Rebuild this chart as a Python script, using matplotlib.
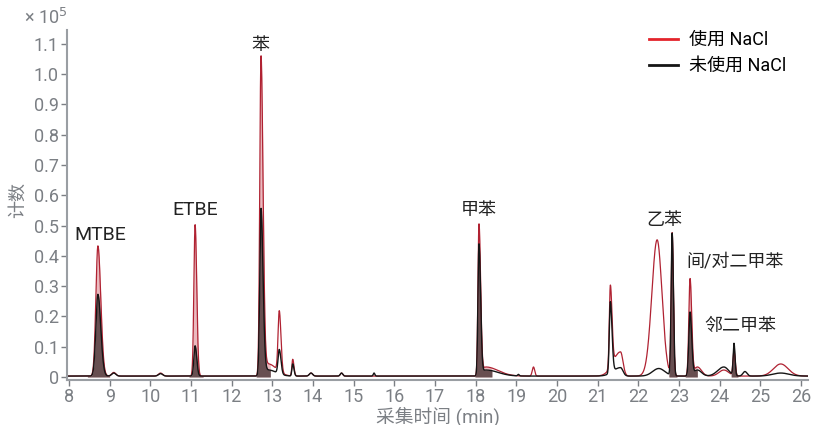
import numpy as np
import matplotlib
matplotlib.use("Agg")
import matplotlib.pyplot as plt

plt.rcParams['font.family'] = ['Roboto', 'Noto Sans CJK SC', 'DejaVu Sans']

# peak tables: retention time (min), height (x1e5), left sigma, right sigma
nacl_rt = [8.71, 9.10, 10.25, 11.10, 12.72, 12.90, 13.17, 13.50, 13.95, 14.70, 18.08, 18.25, 19.42,
           21.31, 21.56, 22.46, 22.83, 23.27, 23.45, 24.10, 24.35, 25.50]
nacl_h = [0.43, 0.012, 0.01, 0.50, 1.05, 0.04, 0.20, 0.055, 0.01, 0.01, 0.50, 0.03, 0.03,
          0.27, 0.08, 0.45, 0.47, 0.32, 0.03, 0.02, 0.08, 0.04]
nacl_sl = [0.05, 0.05, 0.05, 0.03, 0.03, 0.10, 0.03, 0.02, 0.04, 0.03, 0.025, 0.08, 0.03,
           0.025, 0.18, 0.13, 0.025, 0.03, 0.08, 0.12, 0.025, 0.18]
nacl_sr = [0.07, 0.05, 0.05, 0.04, 0.05, 0.20, 0.04, 0.03, 0.04, 0.03, 0.04, 0.30, 0.03,
           0.04, 0.06, 0.12, 0.03, 0.04, 0.10, 0.12, 0.03, 0.18]

none_rt = [8.71, 9.10, 10.25, 11.10, 12.72, 12.90, 13.17, 13.50, 13.95, 14.70, 15.50, 18.08, 18.25,
           19.05, 21.31, 21.56, 22.50, 22.83, 23.27, 23.45, 24.10, 24.35, 24.62, 25.50]
none_h = [0.27, 0.01, 0.008, 0.10, 0.55, 0.02, 0.08, 0.04, 0.01, 0.01, 0.01, 0.435, 0.02,
          0.005, 0.235, 0.028, 0.025, 0.47, 0.21, 0.02, 0.03, 0.105, 0.015, 0.01]
none_sl = [0.05, 0.05, 0.05, 0.03, 0.03, 0.10, 0.03, 0.02, 0.04, 0.03, 0.02, 0.025, 0.08,
           0.02, 0.025, 0.18, 0.15, 0.025, 0.03, 0.08, 0.15, 0.02, 0.05, 0.2]
none_sr = [0.07, 0.05, 0.05, 0.04, 0.05, 0.20, 0.04, 0.03, 0.04, 0.03, 0.02, 0.04, 0.30,
           0.02, 0.04, 0.06, 0.15, 0.03, 0.04, 0.10, 0.12, 0.025, 0.05, 0.2]

# integrated (shaded) peak windows
windows = [(8.45, 9.0), (10.95, 11.3), (12.6, 12.95), (17.98, 18.4),
           (22.75, 22.95), (23.15, 23.45), (24.28, 24.45)]

labels = ['MTBE', 'ETBE', '苯', '甲苯', '乙苯', '间/对二甲苯', '邻二甲苯']
label_x = [8.76, 11.10, 12.70, 18.08, 22.65, 24.38, 24.50]
label_y = [0.47, 0.55, 1.097, 0.55, 0.52, 0.38, 0.17]

t = np.linspace(7.95, 26.17, 6000)


def trace(rt, h, sl, sr):
    y = np.full_like(t, 0.003)
    for r, a, s1, s2 in zip(rt, h, sl, sr):
        s = np.where(t < r, s1, s2)
        y += a * np.exp(-0.5 * ((t - r) / s) ** 2)
    return y


y_nacl = trace(nacl_rt, nacl_h, nacl_sl, nacl_sr)
y_none = trace(none_rt, none_h, none_sl, none_sr)

fig = plt.figure(figsize=(8.14, 4.25), dpi=100)
ax = fig.add_axes([67 / 814, 1 - 380 / 425, (808 - 67) / 814, 350 / 425])

for a, b in windows:
    m = (t >= a) & (t <= b)
    ax.fill_between(t[m], 0, y_nacl[m], color='#e3a3aa', alpha=0.75, lw=0)
    ax.fill_between(t[m], 0, y_none[m], color='#3c2b2d', alpha=0.75, lw=0)

ax.plot(t, y_nacl, color='#b02232', lw=0.9, label='使用 NaCl')
ax.plot(t, y_none, color='#151515', lw=1.0, label='未使用 NaCl')

for s, x, y in zip(labels, label_x, label_y):
    fs = 14 if s.isascii() else 13
    ax.text(x, y, s, ha='center', va='center', fontsize=fs, color='#222222')

ax.set_xlim(7.95, 26.17)
ax.set_ylim(-0.01, 1.146)
ax.set_xticks(range(8, 27))
yt = [i / 10 for i in range(12)]
ax.set_yticks(yt)
ax.set_yticklabels(['0'] + ['%.1f' % v for v in yt[1:]])
for sp in ['top', 'right']:
    ax.spines[sp].set_visible(False)
for sp in ['left', 'bottom']:
    ax.spines[sp].set_color('#9a9ea3')
    ax.spines[sp].set_linewidth(1.5)
ax.tick_params(colors='#7b7f84', labelsize=13, length=4, width=1, pad=2)

ax.set_xlabel('采集时间 (min)', fontsize=13.5, color='#7b7f84', labelpad=0)
fig.text(18 / 814, 1 - 200 / 425, '计数', rotation=90, fontsize=13, color='#7b7f84',
         ha='center', va='center')
fig.text(24 / 814, 1 - 18 / 425, '× 10$^5$', fontsize=13, color='#7b7f84',
         ha='left', va='center')

leg = fig.legend(loc='upper left', bbox_to_anchor=(649 / 814, 1 - 31 / 425), frameon=False,
                 fontsize=13, handlelength=1.6, handletextpad=0.6, labelspacing=0.45,
                 borderaxespad=0, borderpad=0)
leg.get_lines()[0].set_color('#e3242b')
leg.get_lines()[0].set_linewidth(2)
leg.get_lines()[1].set_linewidth(2)

fig.savefig('out.png', dpi=100)
